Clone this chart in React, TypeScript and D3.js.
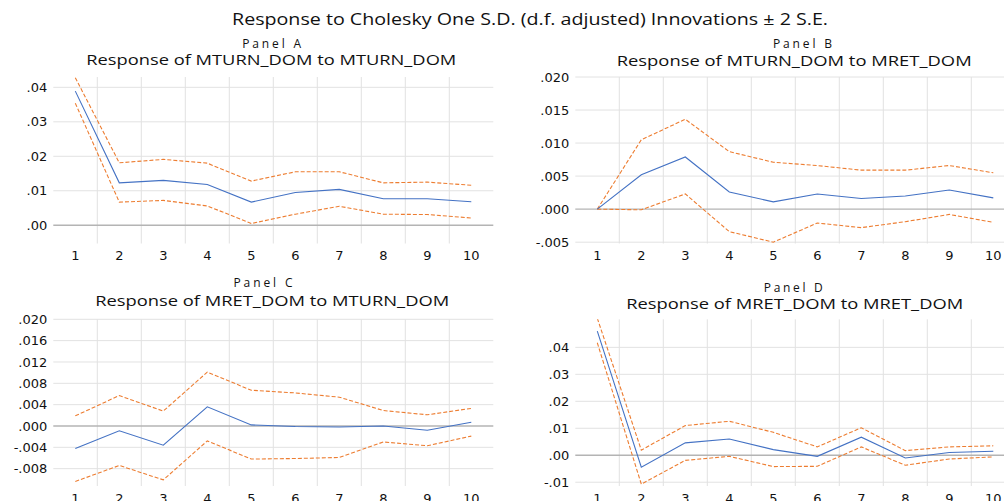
import * as d3 from "d3";

// periods after the shock
const periods = [1, 2, 3, 4, 5, 6, 7, 8, 9, 10];

// Panel A: MTURN_DOM to MTURN_DOM
const aResp = [0.0389, 0.0123, 0.013, 0.0118, 0.0067, 0.0095, 0.0104, 0.0077, 0.0077, 0.0068];
const aUpper = [0.0428, 0.0181, 0.0191, 0.018, 0.0128, 0.0155, 0.0155, 0.0123, 0.0125, 0.0116];
const aLower = [0.0354, 0.0067, 0.0072, 0.0056, 0.0005, 0.0032, 0.0055, 0.0032, 0.0031, 0.0021];
const aTicks = [0, 0.01, 0.02, 0.03, 0.04];

// Panel B: MTURN_DOM to MRET_DOM
const bResp = [0, 0.0052, 0.0079, 0.0026, 0.0011, 0.0023, 0.0016, 0.002, 0.0029, 0.0017];
const bUpper = [0, 0.0105, 0.0136, 0.0087, 0.0071, 0.0066, 0.0059, 0.0059, 0.0066, 0.0055];
const bLower = [0, -0.0001, 0.0023, -0.0034, -0.005, -0.0021, -0.0028, -0.0019, -0.0008, -0.002];
const bTicks = [-0.005, 0, 0.005, 0.01, 0.015, 0.02];

// Panel C: MRET_DOM to MTURN_DOM
const cResp = [-0.0042, -0.0009, -0.0036, 0.0036, 0.0002, -0.0001, -0.0002, 0.0, -0.0008, 0.0007];
const cUpper = [0.0019, 0.0057, 0.0028, 0.0101, 0.0067, 0.0062, 0.0054, 0.0029, 0.0021, 0.0033];
const cLower = [-0.0104, -0.0074, -0.0101, -0.0028, -0.0062, -0.0061, -0.0059, -0.003, -0.0037, -0.0019];
const cTicks = [-0.008, -0.004, 0, 0.004, 0.008, 0.012, 0.016, 0.02];

// Panel D: MRET_DOM to MRET_DOM
const dResp = [0.046, -0.0044, 0.0046, 0.006, 0.0021, -0.0004, 0.0067, -0.001, 0.001, 0.0015];
const dUpper = [0.0508, 0.0019, 0.011, 0.0126, 0.0085, 0.0031, 0.0102, 0.0017, 0.0031, 0.0035];
const dLower = [0.0417, -0.0107, -0.0019, -0.0004, -0.0042, -0.0041, 0.0031, -0.0037, -0.0014, -0.0006];
const dTicks = [-0.01, 0, 0.01, 0.02, 0.03, 0.04];

const W = 1004;
const H = 501;
const FONT = "'Open Sans', 'DejaVu Sans', sans-serif";
const TICK_FONT = "'DejaVu Sans', sans-serif";
const INK = "#111";

type PanelProps = {
  id: string;
  label: string;
  title: string;
  resp: number[];
  upper: number[];
  lower: number[];
  ticks: number[];
  digits: number;
  domain: [number, number];
  left: number;
  top: number;
  bottom: number;
  labelX: number;
  labelY: number;
  titleX: number;
  titleY: number;
  titleW: number;
};

const fmt = (v: number, digits: number) =>
  d3.format(`.${digits}f`)(v).replace("0.", ".").replace("−", "-");

const Panel = (p: PanelProps) => {
  const x = d3.scaleBand<number>().domain(periods).range([p.left, p.left + 440]);
  const y = d3.scaleLinear().domain(p.domain).range([p.bottom, p.top]);
  const cx = (d: number) => (x(d) as number) + x.bandwidth() / 2;
  const line = d3
    .line<number>()
    .x((d, i) => cx(periods[i]))
    .y((d) => y(d));
  const clipId = `clip-${p.id}`;

  return (
    <g>
      <defs>
        <clipPath id={clipId}>
          <rect x={p.left} y={p.top} width={440} height={p.bottom - p.top} />
        </clipPath>
      </defs>
      <text x={p.labelX} y={p.labelY} textAnchor="middle" fontSize={12} textLength={59} lengthAdjust="spacing" fill={INK}>
        {p.label}
      </text>
      <text x={p.titleX} y={p.titleY} textAnchor="middle" fontSize={15} textLength={p.titleW} lengthAdjust="spacingAndGlyphs" fill={INK}>
        {p.title}
      </text>
      {/* vertical grid between periods */}
      {periods.slice(1).map((d) => (
        <line key={`v${d}`} x1={x(d)} x2={x(d)} y1={p.top} y2={p.bottom} stroke="#e2e2e2" strokeWidth={1} />
      ))}
      {/* horizontal grid */}
      {p.ticks.map((t) => (
        <line
          key={`h${t}`}
          x1={p.left}
          x2={p.left + 440}
          y1={y(t)}
          y2={y(t)}
          stroke={t === 0 ? "#b4b4b4" : "#e2e2e2"}
          strokeWidth={t === 0 ? 1.3 : 1}
        />
      ))}
      {p.ticks.map((t) => (
        <text key={`yt${t}`} x={p.left - 6} y={y(t)} dy="0.36em" textAnchor="end" fontSize={13} fontFamily={TICK_FONT} fill={INK}>
          {fmt(t, p.digits)}
        </text>
      ))}
      {periods.map((d) => (
        <text key={`xt${d}`} x={cx(d)} y={p.bottom + 16.5} textAnchor="middle" fontSize={13} fontFamily={TICK_FONT} fill={INK}>
          {d}
        </text>
      ))}
      <g clipPath={`url(#${clipId})`} fill="none">
        <path d={line(p.upper) || ""} stroke="#ed7d31" strokeWidth={1.1} strokeDasharray="4,2" />
        <path d={line(p.lower) || ""} stroke="#ed7d31" strokeWidth={1.1} strokeDasharray="4,2" />
        <path d={line(p.resp) || ""} stroke="#4472c4" strokeWidth={1.1} />
      </g>
    </g>
  );
};

const App = () => {
  const topRow = { top: 77, bottom: 243.5 };
  const botRow = { top: 319.3, bottom: 486 };
  return (
    <svg
      width={W}
      height={H}
      style={{ position: "absolute", left: 0, top: 0, background: "#fff" }}
      fontFamily={FONT}
    >
      <rect width={W} height={H} fill="#fff" />
      <text x={530} y={25.3} textAnchor="middle" fontSize={16} textLength={596} lengthAdjust="spacingAndGlyphs" fill={INK}>
        Response to Cholesky One S.D. (d.f. adjusted) Innovations ± 2 S.E.
      </text>
      <Panel
        id="a"
        label="Panel A"
        title="Response of MTURN_DOM to MTURN_DOM"
        resp={aResp}
        upper={aUpper}
        lower={aLower}
        ticks={aTicks}
        digits={2}
        domain={[-0.0053, 0.043]}
        left={53.3}
        {...topRow}
        labelX={271.7}
        labelY={48.3}
        titleX={271.3}
        titleY={65}
        titleW={370}
      />
      <Panel
        id="b"
        label="Panel B"
        title="Response of MTURN_DOM to MRET_DOM"
        resp={bResp}
        upper={bUpper}
        lower={bLower}
        ticks={bTicks}
        digits={3}
        domain={[-0.0052, 0.02]}
        left={575.3}
        {...topRow}
        labelX={802.5}
        labelY={48.3}
        titleX={794.2}
        titleY={65.5}
        titleW={355}
      />
      <Panel
        id="c"
        label="Panel C"
        title="Response of MRET_DOM to MTURN_DOM"
        resp={cResp}
        upper={cUpper}
        lower={cLower}
        ticks={cTicks}
        digits={3}
        domain={[-0.01125, 0.02]}
        left={53.3}
        {...botRow}
        labelX={263}
        labelY={287.3}
        titleX={272.2}
        titleY={306}
        titleW={354}
      />
      <Panel
        id="d"
        label="Panel D"
        title="Response of MRET_DOM to MRET_DOM"
        resp={dResp}
        upper={dUpper}
        lower={dLower}
        ticks={dTicks}
        digits={2}
        domain={[-0.0114, 0.0504]}
        left={575.3}
        {...botRow}
        labelX={793.3}
        labelY={291.7}
        titleX={794.7}
        titleY={308.5}
        titleW={337}
      />
    </svg>
  );
};

export default App;
